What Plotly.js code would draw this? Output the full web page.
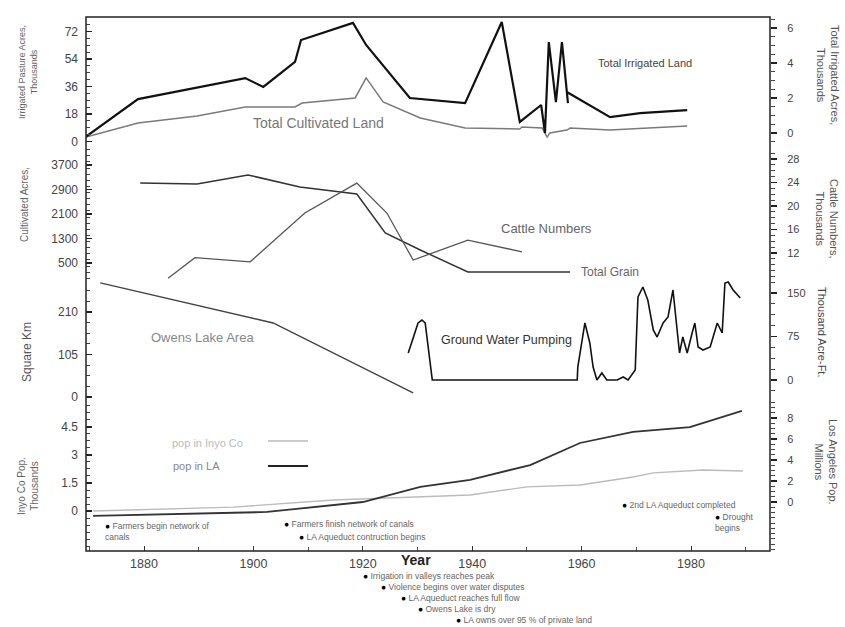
<!DOCTYPE html>
<html><head><meta charset="utf-8">
<script src="https://cdn.plot.ly/plotly-3.0.1.min.js"></script>
<style>html,body{margin:0;padding:0;background:#fff}#plot{width:845px;height:627px}</style>
</head><body><div id="plot"></div>
<script>
// ---- data ----
const irrigatedYears = [1869.4,1878.9,1898.5,1901.8,1907.6,1908.7,1918.2,1920.6,1928.6,1938.7,1945.4,1948.7,1952.6,1953.3,1954.0,1955.3,1956.4,1957.5,1957.3,1965.2,1970.7,1979.3];
const irrigatedVals  = [-0.2,1.94,3.14,2.63,4.06,5.31,6.29,5.03,2.0,1.71,6.34,0.63,1.6,0.0,5.2,1.77,5.2,1.71,2.34,0.91,1.14,1.31];
const cultivatedYears = [1869.4,1878.9,1889.7,1898.5,1907.6,1908.9,1918.6,1920.6,1923.7,1930.5,1938.7,1948.7,1949.1,1952.8,1953.7,1954.2,1957.3,1957.9,1965.2,1979.3];
const cultivatedVals  = [2.9,12.1,16.7,22.6,22.6,25.2,28.5,41.6,25.9,15.4,8.8,8.2,9.5,8.8,2.9,5.6,7.5,8.8,7.5,10.1];
const grainYears = [1879.3,1889.7,1899.0,1908.5,1918.9,1924.1,1930.5,1939.2,1948.7,1957.9];
const grainVals  = [3112,3080,3374,2982,2753,1480,925,206,206,206];
const cattleYears = [1884.4,1889.3,1899.4,1909.4,1918.9,1924.4,1929.2,1939.2,1949.1];
const cattleVals  = [7.7,11.2,10.5,18.8,23.9,18.8,10.8,14.2,12.2];
const owensYears = [1872.0,1903.6,1929.2];
const owensVals  = [282,183,10];
const pumpYears = [1928.3,1930.1,1930.8,1931.4,1932.7,1959.2,1959.3,1960.6,1961.5,1962.1,1962.8,1963.7,1964.6,1966.5,1967.6,1968.5,1969.8,1970.3,1971.2,1972.1,1973.1,1973.8,1974.9,1975.8,1976.7,1977.4,1977.9,1978.5,1979.3,1980.2,1980.7,1981.3,1982.2,1983.5,1984.8,1985.7,1986.2,1986.8,1987.7,1989.0];
const pumpVals  = [46.6,98.3,103.4,98.3,0,0,22.4,98.3,63.8,22.4,0,12.1,0,0,5.2,0,17.2,143.1,160.3,137.9,86.2,74.1,98.3,108.6,155.2,91.4,46.6,74.1,46.6,81.0,98.3,56.9,51.7,56.9,98.3,81.0,167.2,169.0,155.2,141.4];
const inyoYears = [1870.7,1896.3,1914.6,1930.5,1939.6,1950.0,1959.7,1969.4,1973.1,1982.2,1989.5];
const inyoVals  = [0,0.21,0.59,0.75,0.86,1.29,1.39,1.82,2.04,2.2,2.14];
const laYears = [1870.7,1902.5,1920.0,1924.4,1930.5,1939.6,1950.6,1959.7,1969.4,1979.8,1989.3];
const laVals  = [-1.33,-0.95,0,0.57,1.43,2.1,3.52,5.62,6.67,7.14,8.67];
const eventYears  = [1873.4,1906.2,1908.9,1920.6,1923.9,1927.5,1930.6,1937.6,1967.9,1984.9];
const eventLabels = ["Farmers begin network of<br>canals","Farmers finish network of canals","LA Aqueduct contruction begins","Irrigation in valleys reaches peak","Violence begins over water disputes","LA Aqueduct reaches full flow","Owens Lake is dry","LA owns over 95 % of private land","2nd LA Aqueduct completed","Drought<br>begins"];
const yearTicks = [1880,1900,1920,1940,1960,1980];

// ---- layout helpers (pixel geometry) ----
const L=86, R=770, T=17, B=551, W=R-L, H=B-T;
const fx = px => (px-L)/W;
const fy = py => (B-py)/H;
const eventRowY = [525,523,536,575,586,597,608,619,504,516];
const FONT = 'Liberation Sans, Arial, sans-serif';

function line(x,y,ax,color,width){
  return {x:x,y:y,yaxis:ax,xaxis:'x',type:'scatter',mode:'lines',
    line:{color:color,width:width},hoverinfo:'skip',showlegend:false};
}
const traces = [
  line(cultivatedYears,cultivatedVals,'y','#7a7a7a',1.5),
  line(irrigatedYears,irrigatedVals,'y2','#111',2.2),
  line(grainYears,grainVals,'y3','#333',1.5),
  line(cattleYears,cattleVals,'y4','#555',1.3),
  line(owensYears,owensVals,'y5','#444',1.5),
  line(pumpYears,pumpVals,'y6','#111',1.6),
  line(inyoYears,inyoVals,'y7','#bbbbbb',1.4),
  line(laYears,laVals,'y8','#333',1.8)
];

function leftAx(dom,range,vals,text,minor){
  return {domain:dom,range:range,tickmode:'array',tickvals:vals,ticktext:text||vals.map(String),
    side:'left',anchor:'x',showline:false,showgrid:false,zeroline:false,
    ticks:'inside',ticklen:6,tickcolor:'#222',tickwidth:1.2,ticklabelstandoff:7,
    tickfont:{size:12,color:'#444',family:FONT},
    minor:{tickmode:'linear',tick0:0,dtick:minor,ticks:'inside',ticklen:4,tickcolor:'#444',tickwidth:1}};
}
function rightAx(over,range,vals,text,minor){
  return {overlaying:over,range:range,tickmode:'array',tickvals:vals,ticktext:text||vals.map(String),
    side:'right',anchor:'x',showline:false,showgrid:false,zeroline:false,
    ticks:'outside',ticklen:6,tickcolor:'#222',tickwidth:1.2,ticklabelstandoff:8,
    tickfont:{size:11,color:'#444',family:FONT},
    minor:{tickmode:'linear',tick0:0,dtick:minor,ticks:'outside',ticklen:4,tickcolor:'#444',tickwidth:1}};
}

const ann = [];
function A(text,px,py,size,color,opts){
  ann.push(Object.assign({text:text,x:fx(px),y:fy(py),xref:'paper',yref:'paper',showarrow:false,
    font:{size:size,color:color,family:FONT},xanchor:'center',yanchor:'middle'},opts||{}));
}
// series labels
A('Total Irrigated Land',645,63,11,'#444');
A('Total Cultivated Land',318,123,14,'#777');
A('Cattle Numbers',546,229,13,'#666');
A('Total Grain',610,272,12,'#666');
A('Owens Lake Area',202,337,13,'#888');
A('Ground Water Pumping',507,340,12.5,'#333');
A('pop in Inyo Co',207,443,11,'#bbb');
A('pop in LA',196,466,11,'#888');
// axis titles
A('Irrigated Pasture Acres,<br>Thousands',28,72,9,'#666',{textangle:-90});
A('Cultivated Acres,',25,205,10,'#666',{textangle:-90});
A('Square Km',27,352,12,'#555',{textangle:-90});
A('Inyo Co Pop.<br>Thousands',28,486,10,'#666',{textangle:-90});
A('Total Irrigated Acres,<br>Thousands',828,75,11,'#555',{textangle:90});
A('Cattle Numbers,<br>Thousands',827,218,11,'#555',{textangle:90});
A('Thousand Acre-Ft.',822,332,11,'#444',{textangle:90});
A('Los Angeles Pop.<br>Millions',826,462,11,'#555',{textangle:90});
A('<b>Year</b>',416,560,14,'#222');
// events
for(let i=0;i<eventYears.length;i++){
  ann.push({text:'<span style="color:#000">●</span> '+eventLabels[i],
    x:eventYears[i],xref:'x',y:fy(eventRowY[i]-5),yref:'paper',xanchor:'left',yanchor:'top',
    xshift:-4,align:'left',showarrow:false,borderpad:0,font:{size:8.5,color:'#666',family:FONT}});
}

const shapes = [
  {type:'rect',xref:'paper',yref:'paper',x0:0,x1:1,y0:0,y1:1,line:{color:'#222',width:1.5}},
  {type:'line',xref:'paper',yref:'paper',x0:fx(268),x1:fx(308),y0:fy(441),y1:fy(441),line:{color:'#bbb',width:1.5}},
  {type:'line',xref:'paper',yref:'paper',x0:fx(268),x1:fx(308),y0:fy(466),y1:fy(466),line:{color:'#222',width:2}}
];

const layout = {
  width:845,height:627,margin:{l:L,r:845-R,t:T,b:627-B},
  paper_bgcolor:'#fff',plot_bgcolor:'rgba(0,0,0,0)',font:{family:FONT},showlegend:false,
  xaxis:{range:[1869.39,1994.44],anchor:'free',position:0,tickmode:'array',tickvals:yearTicks,
    showline:false,showgrid:false,zeroline:false,ticks:'inside',ticklen:5,tickcolor:'#333',
    ticklabelstandoff:3,tickfont:{size:12.5,color:'#444',family:FONT},
    minor:{tickmode:'linear',tick0:1870,dtick:10,ticks:'inside',ticklen:4,tickcolor:'#555'}},
  yaxis: leftAx([fy(148),1],[-4.254,81.479],[0,18,36,54,72],null,4.5),
  yaxis2: rightAx('y',[-0.857,6.629],[0,2,4,6],null,0.5),
  yaxis3: leftAx([fy(280),fy(148)],[-55.1,4255.1],[500,1300,2100,2900,3700],null,200),
  yaxis4: rightAx('y3',[7.404,29.872],[12,16,20,24,28],null,1),
  yaxis5: leftAx([fy(400),fy(280)],[-7.41,289.06],[0,105,210],null,26.25),
  yaxis6: rightAx('y5',[-34.48,172.41],[0,75,150],null,18.75),
  yaxis7: leftAx([0,fy(400)],[-2.143,5.946],[0,1.5,3,4.5],['0','1.5','3','4.5'],0.375),
  yaxis8: rightAx('y7',[-4.667,9.714],[0,2,4,6,8],null,0.5),
  annotations:ann, shapes:shapes
};
Plotly.newPlot('plot',traces,layout,{displayModeBar:false,staticPlot:true});
</script></body></html>
